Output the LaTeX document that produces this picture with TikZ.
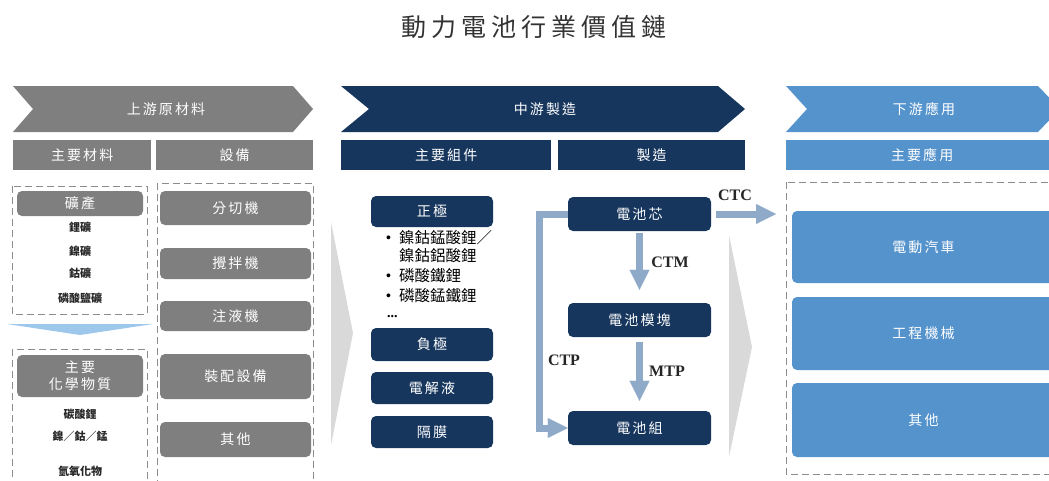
\documentclass[tikz,border=0pt]{standalone}
\usepackage{fontspec}
\usetikzlibrary{arrows.meta}
\newfontfamily\cjk[LetterSpace=15]{Noto Sans CJK TC}
\newfontfamily\cjkt[LetterSpace=20]{Noto Sans CJK TC}
\newfontfamily\cjkn{Noto Sans CJK TC}
\newfontfamily\serifb{Liberation Serif}
\newfontfamily\sansb{Liberation Sans}
\definecolor{cgray}{HTML}{7F7F7F}
\definecolor{cnavy}{HTML}{17365D}
\definecolor{cblue}{HTML}{5593CD}
\definecolor{clblue}{HTML}{9DC8EC}
\definecolor{ctri}{HTML}{D9D9D9}
\definecolor{carrow}{HTML}{8FAAC8}
\definecolor{cdash}{HTML}{8C8C8C}
\definecolor{ctitle}{HTML}{333333}
\tikzset{
  lab/.style={font=\cjk\fontsize{14}{17}\selectfont, text=white, inner sep=0pt, align=center},
  hdrbox/.style={lab, rectangle, anchor=north west},
  rbox/.style={lab, rounded corners=5pt, minimum width=#1},
  gbox/.style={rbox=#1, fill=cgray},
  nbox/.style={rbox=#1, fill=cnavy},
  bbox/.style={rbox=#1, fill=cblue},
  small/.style={font=\cjkn\bfseries\fontsize{11}{13}\selectfont, text=black!85, inner sep=0pt},
  bul/.style={font=\cjkn\fontsize{15.5}{18}\selectfont, text=black, inner sep=0pt, anchor=west},
  bdot/.style={font=\sansb\fontsize{14}{16}\selectfont, text=black, inner sep=0pt, anchor=west},
  dbox/.style={draw=cdash, line width=1pt, dash pattern=on 7pt off 4pt},
  fat/.style={draw=carrow, line width=7pt, line join=miter, -{Triangle[length=20pt,width=20pt,line width=0.1pt]}},
  tlab/.style={font=\serifb\bfseries\fontsize{16}{18}\selectfont, text=black!85, inner sep=0pt}
}
\begin{document}
\begin{tikzpicture}[x=1pt,y=-1pt]
\useasboundingbox (0,0) rectangle (1049,480);
\clip (0,0) rectangle (1049,480);

% title
\node[font=\cjkt\fontsize{25}{28}\selectfont, text=ctitle, inner sep=0pt] (title) at (534,27) {動力電池行業價值鏈};

% chevrons
\fill[cgray] (13,86) -- (293,86) -- (313,109) -- (293,132) -- (13,132) -- (33,109) -- cycle;
\fill[cnavy] (341,86) -- (718,86) -- (745,109) -- (718,132) -- (341,132) -- (369,109) -- cycle;
\fill[cblue] (786,86) -- (1038,86) -- (1060,109) -- (1038,132) -- (786,132) -- (807,109) -- cycle;
\node[lab] (up) at (166,109) {上游原材料};
\node[lab] (mid) at (545,109) {中游製造};
\node[lab] (down) at (924,109) {下游應用};

% header bars
\node[hdrbox, fill=cgray, minimum width=138, minimum height=30] (h1) at (13,140) {主要材料};
\node[hdrbox, fill=cgray, minimum width=157, minimum height=30] (h2) at (156,140) {設備};
\node[hdrbox, fill=cnavy, minimum width=210, minimum height=30] (h3) at (341,140) {主要組件};
\node[hdrbox, fill=cnavy, minimum width=187, minimum height=30] (h4) at (558,140) {製造};
\node[hdrbox, fill=cblue, minimum width=272, minimum height=30] (h5) at (786,140) {主要應用};

% grey flow triangles
\fill[ctri] (331,222) -- (353,333) -- (331,445) -- cycle;
\fill[ctri] (729,235) -- (752,347) -- (729,457) -- cycle;

% dashed boxes
\draw[dbox] (12,186) rectangle (147,314);
\draw[dbox] (12,349) rectangle (147,495);
\draw[dbox] (157,183) rectangle (313,495);
\draw[dbox] (786,182) rectangle (1065,474);

% light blue down wedge
\fill[clblue] (7,324) -- (153,324) -- (80,335) -- cycle;

% left column
\node[gbox=126, minimum height=25] (ore) at (80,203.5) {礦產};
\node[small] (o1) at (80,227) {鋰礦};
\node[small] (o2) at (80,251) {鎳礦};
\node[small] (o3) at (80,273) {鈷礦};
\node[small] (o4) at (80,298) {磷酸鹽礦};
\node[gbox=126, minimum height=42] (chem) at (80,376) {主要\\化學物質};
\node[small] (c1) at (80,414) {碳酸鋰};
\node[small] (c2) at (80,436) {鎳／鈷／錳};
\node[small] (c3) at (80,471) {氫氧化物};

% equipment
\node[gbox=151, minimum height=34] (e1) at (235.5,208) {分切機};
\node[gbox=151, minimum height=31] (e2) at (235.5,263.5) {攪拌機};
\node[gbox=151, minimum height=30] (e3) at (235.5,316) {注液機};
\node[gbox=151, minimum height=45] (e4) at (235.5,376.5) {裝配設備};
\node[gbox=151, minimum height=35] (e5) at (235.5,439.5) {其他};

% components
\node[nbox=122, minimum height=31] (pos) at (432,211.5) {正極};
\node[bdot] (b1) at (386,239) {•};
\node[bul] (t1) at (399,238) {鎳鈷錳酸鋰／};
\node[bul] (t1b) at (399,256) {鎳鈷鋁酸鋰};
\node[bdot] (b2) at (386,277) {•};
\node[bul] (t2) at (399,276) {磷酸鐵鋰};
\node[bdot] (b3) at (386,297) {•};
\node[bul] (t3) at (399,296) {磷酸錳鐵鋰};
\node[font=\serifb\bfseries\fontsize{14}{16}\selectfont, inner sep=0pt, anchor=west] (dots) at (387,317) {...};
\node[nbox=122, minimum height=33] (neg) at (432,344.5) {負極};
\node[nbox=122, minimum height=32] (ele) at (432,388) {電解液};
\node[nbox=122, minimum height=32] (sep) at (432,432) {隔膜};

% manufacturing
\node[nbox=143, minimum height=34] (cell) at (639.5,214) {電池芯};
\node[nbox=143, minimum height=34] (module) at (639.5,320) {電池模塊};
\node[nbox=143, minimum height=34] (pack) at (639.5,428) {電池組};

% applications
\node[bbox=263, minimum height=72] (a1) at (923.5,247) {電動汽車};
\node[bbox=263, minimum height=73] (a2) at (923.5,333.5) {工程機械};
\node[bbox=263, minimum height=74] (a3) at (923.5,420) {其他};

% arrows
\coordinate (ctcend) at (776,214);
\draw[fat] ([xshift=5]cell.east) -- (ctcend);
\draw[fat, shorten <=2pt, shorten >=13pt] (cell.south) -- (module.north);
\draw[fat, shorten <=5pt, shorten >=10pt] (module.south) -- (pack.north);
\draw[fat] (cell.west) -- ++(-28,0) |- (pack.west);

\node[tlab] (lctc) at (735,195) {CTC};
\node[tlab] (lctm) at (670,262) {CTM};
\node[tlab] (lmtp) at (667,371) {MTP};
\node[tlab] (lctp) at (564,360) {CTP};
\end{tikzpicture}
\end{document}
